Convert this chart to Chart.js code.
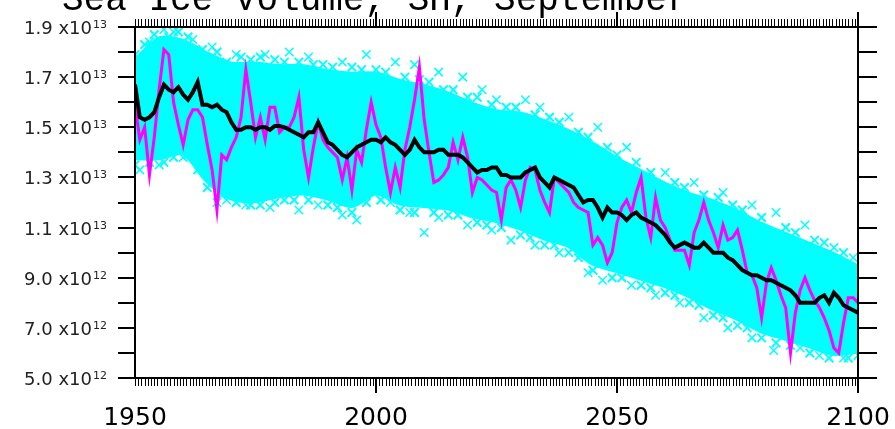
<!DOCTYPE html>
<html>
<head>
<meta charset="utf-8">
<script src="https://cdn.jsdelivr.net/npm/chart.js@4.4.1/dist/chart.umd.min.js"></script>
<style>
  html, body { margin: 0; padding: 0; background: #fff; }
</style>
</head>
<body>
<canvas id="chart" width="895" height="429"></canvas>
<script>
// Sea ice volume, SH, September -- values in units of 1e12
const years = [];
for (let y = 1950; y <= 2100; y++) years.push(y);

// ensemble mean (black)
const ensembleMean = [
  16.7, 15.4, 15.3, 15.4, 15.6, 16.2, 16.7, 16.5, 16.4, 16.6,
  16.3, 16.1, 16.4, 16.8, 15.9, 15.9, 15.8, 15.9, 15.7, 15.6,
  15.2, 14.9, 14.9, 15.0, 15.0, 14.9, 15.0, 15.0, 14.9, 15.05,
  15.05, 15.0, 14.9, 14.8, 14.7, 14.6, 14.8, 14.8, 15.2, 14.8,
  14.4, 14.3, 14.1, 13.9, 13.8, 14.0, 14.2, 14.3, 14.4, 14.5,
  14.5, 14.4, 14.6, 14.4, 14.3, 14.1, 13.9, 14.1, 14.5, 14.2,
  14.0, 14.0, 14.0, 14.1, 14.1, 13.9, 13.9, 13.9, 13.8, 13.6,
  13.4, 13.2, 13.3, 13.3, 13.4, 13.4, 13.1, 13.1, 13.0, 13.0,
  13.0, 13.2, 13.3, 13.4, 13.0, 12.8, 12.6, 13.0, 12.9, 12.8,
  12.7, 12.6, 12.3, 12.0, 12.1, 12.1, 11.8, 11.4, 11.8, 11.6,
  11.6, 11.5, 11.3, 11.5, 11.6, 11.4, 11.3, 11.2, 11.1, 10.9,
  10.7, 10.4, 10.2, 10.3, 10.4, 10.3, 10.2, 10.2, 10.4, 10.2,
  10.0, 10.0, 10.0, 9.8, 9.7, 9.5, 9.3, 9.2, 9.1, 9.1,
  9.0, 8.9, 8.9, 8.8, 8.7, 8.6, 8.5, 8.3, 8.0, 8.0,
  8.0, 8.0, 8.2, 8.3, 8.0, 8.4, 8.2, 7.9, 7.8, 7.7,
  7.6
];

// one ensemble member (magenta)
const singleMember = [
  15.9, 14.5, 15.0, 13.1, 14.6, 16.5, 18.1, 17.9, 16.0, 15.1,
  14.3, 15.3, 15.7, 15.7, 15.4, 14.3, 13.3, 11.7, 13.9, 13.7,
  14.2, 14.6, 15.4, 17.3, 16.0, 14.6, 15.4, 14.5, 15.8, 15.8,
  14.8, 15.0, 15.0, 15.4, 16.2, 14.1, 13.0, 14.2, 15.2, 14.5,
  14.2, 14.0, 13.8, 12.9, 13.8, 12.5, 14.1, 13.6, 14.9, 16.0,
  15.1, 14.6, 13.4, 12.4, 13.4, 12.6, 14.1, 15.0, 16.1, 17.4,
  15.3, 14.0, 12.8, 12.9, 13.1, 13.4, 14.4, 13.7, 14.6, 13.8,
  12.4, 13.0, 12.9, 12.7, 12.5, 12.4, 11.3, 12.6, 12.9, 12.5,
  11.8, 12.9, 13.4, 13.3, 12.5, 12.0, 11.6, 13.0, 12.8, 12.6,
  12.4, 12.0, 11.8, 11.7, 11.6, 10.3, 10.6, 10.3, 9.6, 10.0,
  11.2, 11.8, 12.1, 11.6, 12.4, 13.0, 11.4, 10.6, 12.2, 11.3,
  11.0, 10.5, 10.1, 10.1, 10.1, 9.5, 10.8, 11.3, 12.0, 11.3,
  10.8, 10.2, 11.1, 10.5, 10.6, 10.9, 10.1, 9.2, 9.1, 8.6,
  7.4, 8.8, 9.4, 8.9, 8.3, 7.8, 6.0, 7.6, 8.5, 9.0,
  8.5, 8.1, 7.8, 7.4, 6.9, 6.2, 6.0, 7.2, 8.2, 8.2,
  8.0
];

// dense cloud of members (cyan), outer edges every 5 years
const spreadYears = [
  1950, 1955, 1960, 1965, 1970, 1975, 1980, 1985, 1990, 1995, 2000,
  2005, 2010, 2015, 2020, 2025, 2030, 2035, 2040, 2045, 2050,
  2055, 2060, 2065, 2070, 2075, 2080, 2085, 2090, 2095, 2100
];
const spreadUpper = [
  17.6, 18.5, 18.4, 17.9, 17.5, 17.5, 17.4, 17.4, 17.2, 17.1, 17.1,
  16.8, 16.6, 16.3, 15.9, 15.6, 15.5, 15.2, 14.8, 14.3, 13.7,
  13.2, 12.7, 12.3, 12.0, 11.6, 11.1, 10.7, 10.3, 9.9, 9.4
];
const spreadLower = [
  13.8, 13.8, 14.0, 12.9, 12.2, 12.1, 12.3, 12.4, 12.2, 11.9, 12.4,
  12.0, 11.9, 11.8, 11.5, 11.3, 11.0, 10.6, 10.3, 9.6, 9.3,
  9.0, 8.7, 8.3, 7.8, 7.4, 6.9, 6.6, 6.3, 6.0, 6.1
];

// member crosses along the ragged edges of the cloud
const edgeYears = [
  1950, 1952, 1954, 1957, 1959, 1961, 1964, 1967, 1969, 1972, 1974, 1976, 1979, 1981,
  1984, 1987, 1989, 1991, 1995, 1997, 2000, 2002, 2006, 2009, 2011, 2014, 2016, 2019,
  2021, 2024, 2027, 2029, 2033, 2036, 2038, 2042, 2044, 2048, 2050, 2054, 2057, 2062,
  2064, 2068, 2071, 2074, 2076, 2080, 2085, 2087, 2091, 2093, 2097,
  1950, 1953, 1956, 1958, 1961, 1963, 1965, 1968, 1971, 1974, 1976, 1979, 1981, 1983,
  1986, 1990, 1992, 1995, 1998, 2001, 2005, 2008, 2012, 2015, 2017, 2021, 2023, 2026,
  2030, 2032, 2035, 2037, 2040, 2042, 2045, 2049, 2051, 2055, 2057, 2060, 2062, 2065,
  2067, 2070, 2072, 2075, 2077, 2080, 2083, 2086, 2090, 2094, 2098, 2100
];
const edgeValues = [
  17.9, 18.3, 18.7, 18.6, 18.8, 18.6, 18.1, 18.0, 17.6, 17.8, 17.7, 17.8, 17.7, 17.6,
  17.6, 17.5, 17.5, 17.4, 17.4, 17.3, 17.3, 17.2, 17.0, 16.9, 16.8, 16.5, 16.5, 16.2,
  16.2, 15.9, 15.8, 15.8, 15.5, 15.4, 15.2, 14.8, 14.6, 14.2, 13.9, 13.6, 13.2, 12.8,
  12.6, 12.3, 12.2, 11.9, 11.7, 11.4, 11.0, 10.8, 10.5, 10.4, 10.0,
  13.5, 13.6, 13.6, 13.8, 13.9, 13.3, 12.6, 12.3, 12.0, 11.9, 11.9, 12.0, 12.1, 12.1,
  12.1, 11.9, 11.8, 11.6, 12.0, 12.1, 11.7, 11.6, 11.6, 11.5, 11.5, 11.2, 11.1, 11.0,
  10.7, 10.6, 10.3, 10.3, 10.0, 9.8, 9.3, 9.0, 9.0, 8.7, 8.6, 8.4, 8.3, 8.0,
  7.9, 7.5, 7.4, 7.1, 7.0, 6.6, 6.4, 6.3, 6.0, 5.8, 5.8, 5.9
];

// stray member crosses well outside the cloud
const strayYears = [
  1953, 1956, 1958, 1962, 1966, 1971, 1977, 1982, 1986, 1993, 1998, 2004, 2008, 2013, 2018,
  2022, 2025, 2031, 2034, 2040, 2046, 2052, 2060, 2066, 2072, 2078, 2083, 2089, 2095, 2099,
  1951, 1955, 1960, 1967, 1969, 1973, 1978, 1984, 1988, 1993, 1996, 2003, 2007, 2010, 2013, 2019,
  2024, 2028, 2033, 2038, 2044, 2047, 2053, 2058, 2063, 2068, 2073, 2078, 2082.5, 2088, 2092, 2097
];
const strayValues = [
  18.4, 18.9, 18.8, 18.5, 18.2, 17.9, 17.9, 18.0, 17.8, 17.6, 17.9, 17.6, 17.5, 17.2, 17.0,
  16.5, 16.1, 16.1, 15.8, 15.4, 15.0, 14.2, 13.2, 12.8, 12.4, 11.9, 11.6, 11.1, 10.2, 9.8,
  13.3, 13.5, 13.8, 12.0, 12.1, 11.9, 11.8, 11.7, 11.9, 11.5, 11.3, 12.0, 11.6, 10.8, 11.4, 11.1,
  10.9, 10.5, 10.3, 10.0, 9.2, 8.9, 8.7, 8.3, 8.0, 7.4, 7.0, 6.6, 6.1, 6.2, 5.9, 5.8
];

const xTickLabels = [1950, 2000, 2050, 2100];
const xMajorTicks = [2000, 2050, 2100];
const yTickValues = [19, 17, 15, 13, 11, 9, 7, 5];
const yTickLabels = ['1.9', '1.7', '1.5', '1.3', '1.1', '9.0', '7.0', '5.0'];
const yTickExponents = ['13', '13', '13', '13', '13', '12', '12', '12'];
const titleText = 'Sea Ice Volume, SH, September';

const pts = (xs, ys) => xs.map((x, i) => ({ x: x, y: ys[i] }));

// frame, ticks, labels and title
const axesPlugin = {
  id: 'ncarAxes',
  beforeDraw(chart) {
    const ctx = chart.ctx;
    ctx.save();
    ctx.fillStyle = '#fff';
    ctx.fillRect(0, 0, chart.width, chart.height);
    ctx.restore();
  },
  afterDraw(chart) {
    const ctx = chart.ctx;
    const a = chart.chartArea;
    const xs = chart.scales.x, ys = chart.scales.y;
    ctx.save();
    ctx.strokeStyle = '#000';
    ctx.fillStyle = '#000';

    // frame
    ctx.lineWidth = 2;
    ctx.strokeRect(a.left, a.top, a.right - a.left, a.bottom - a.top);

    // y ticks every 1e12, outward on both sides
    for (let v = ys.min; v <= ys.max; v++) {
      const p = Math.round(ys.getPixelForValue(v));
      ctx.beginPath();
      ctx.moveTo(a.left - 17, p); ctx.lineTo(a.left, p);
      ctx.moveTo(a.right, p); ctx.lineTo(a.right + 19, p);
      ctx.stroke();
    }

    // x minor ticks
    ctx.lineWidth = 1;
    ctx.beginPath();
    for (let t = xs.min; t <= xs.max + 0.01; t += 2 / 3) {
      const p = Math.round(xs.getPixelForValue(t)) + 0.5;
      ctx.moveTo(p, a.bottom); ctx.lineTo(p, a.bottom + 8);
      ctx.moveTo(p, a.top); ctx.lineTo(p, a.top - 8);
    }
    ctx.stroke();

    // x major ticks
    ctx.lineWidth = 2;
    ctx.beginPath();
    xMajorTicks.forEach(t => {
      const p = Math.round(xs.getPixelForValue(t));
      ctx.moveTo(p, a.bottom); ctx.lineTo(p, a.bottom + 15);
      ctx.moveTo(p, a.top); ctx.lineTo(p, a.top - 15);
    });
    ctx.stroke();

    // x labels
    ctx.font = '25px "DejaVu Sans"';
    ctx.textAlign = 'center';
    ctx.textBaseline = 'alphabetic';
    xTickLabels.forEach(t => {
      ctx.fillText(String(t), xs.getPixelForValue(t), 425);
    });

    // y labels with exponent
    ctx.fillStyle = '#222';
    yTickValues.forEach((v, i) => {
      const p = ys.getPixelForValue(v);
      ctx.font = '18px "DejaVu Sans"';
      ctx.textAlign = 'right';
      ctx.fillText(yTickLabels[i] + ' x10', 92, p + 7);
      ctx.font = '11px "DejaVu Sans"';
      ctx.textAlign = 'left';
      ctx.fillText(yTickExponents[i], 93, p + 1);
    });

    // title, cut off by the top of the picture
    ctx.fillStyle = '#000';
    ctx.font = '36px "Liberation Mono"';
    ctx.textAlign = 'left';
    ctx.fillText(titleText, 62, 10);
    ctx.restore();
  }
};

new Chart(document.getElementById('chart'), {
  type: 'line',
  data: {
    datasets: [
      {
        label: 'ensemble mean',
        data: pts(years, ensembleMean),
        borderColor: '#000',
        borderWidth: 4,
        pointRadius: 0,
        fill: false
      },
      {
        label: 'member',
        data: pts(years, singleMember),
        borderColor: '#ff00ff',
        borderWidth: 3,
        pointRadius: 0,
        fill: false
      },
      {
        label: 'edge members',
        data: pts(edgeYears, edgeValues),
        showLine: false,
        pointStyle: 'crossRot',
        pointRadius: 6,
        borderColor: '#00ffff',
        borderWidth: 2,
        fill: false
      },
      {
        label: 'stray members',
        data: pts(strayYears, strayValues),
        showLine: false,
        pointStyle: 'crossRot',
        pointRadius: 6,
        borderColor: '#00ffff',
        borderWidth: 1.5,
        fill: false
      },
      {
        label: 'spread upper',
        data: pts(spreadYears, spreadUpper),
        borderColor: '#00ffff',
        backgroundColor: '#00ffff',
        borderWidth: 6,
        pointRadius: 0,
        tension: 0.3,
        fill: '+1'
      },
      {
        label: 'spread lower',
        data: pts(spreadYears, spreadLower),
        borderColor: '#00ffff',
        borderWidth: 6,
        pointRadius: 0,
        tension: 0.3,
        fill: false
      }
    ]
  },
  options: {
    responsive: false,
    animation: false,
    devicePixelRatio: 1,
    layout: { padding: { left: 135, right: 37, top: 27, bottom: 51 } },
    plugins: { legend: { display: false }, tooltip: { enabled: false } },
    scales: {
      x: { type: 'linear', min: 1950, max: 2100, display: false },
      y: { type: 'linear', min: 5, max: 19, display: false }
    }
  },
  plugins: [axesPlugin]
});
</script>
</body>
</html>
